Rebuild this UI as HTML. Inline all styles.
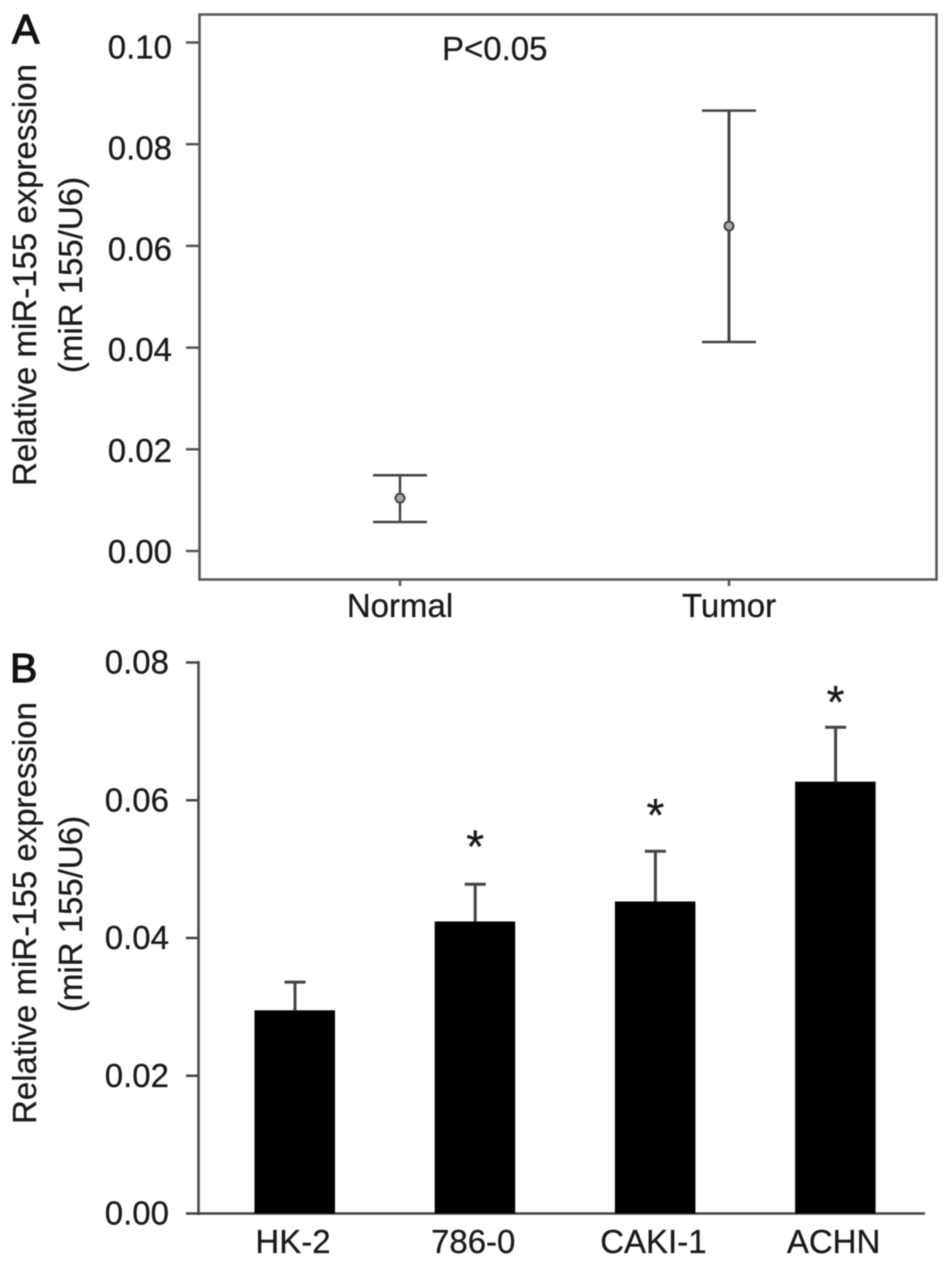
<!DOCTYPE html>
<html lang="en">
<head>
<meta charset="utf-8">
<title>miR-155 expression</title>
<style>
html,body{margin:0;padding:0;background:#fff;}
svg{display:block;filter:blur(0.5px);}
text{font-family:"Liberation Sans",sans-serif;fill:#1a1a1a;font-size:33px;stroke:#1a1a1a;stroke-width:0.3px;}
</style>
</head>
<body>
<svg id="chart" width="945" height="1266" viewBox="0 0 945 1266" xmlns="http://www.w3.org/2000/svg">
  <rect x="0" y="0" width="945" height="1266" fill="#fff"/>
  <text x="12" y="43" style="font-size:41px;stroke-width:1.2px;fill:#111;stroke:#111">A</text>
  <text x="10" y="682" style="font-size:41px;stroke-width:1.2px;fill:#111;stroke:#111">B</text>
  <rect x="199.5" y="14.5" width="737" height="565" fill="none" stroke="#555" stroke-width="2.5"/>
  <text transform="translate(36,275) rotate(-90)" text-anchor="middle">Relative miR-155 expression</text>
  <text transform="translate(82,275) rotate(-90)" text-anchor="middle">(miR 155/U6)</text>
  <text x="442" y="60">P&lt;0.05</text>
  <line x1="198.5" y1="661" x2="198.5" y2="1215" stroke="#444" stroke-width="2.5"/>
  <line x1="197" y1="1213.5" x2="925" y2="1213.5" stroke="#444" stroke-width="2.5"/>
  <text transform="translate(36,913) rotate(-90)" text-anchor="middle">Relative miR-155 expression</text>
  <text transform="translate(82,914) rotate(-90)" text-anchor="middle">(miR 155/U6)</text>
  <g id="panelA"></g>
  <g id="panelB"></g>
</svg>
<script>
// Panel A data
const groupsA = ["Normal", "Tumor"];
const meansA = [0.0104, 0.0639];
const upperA = [0.0149, 0.0866];
const lowerA = [0.0057, 0.0411];
const ticksA = [0.00, 0.02, 0.04, 0.06, 0.08, 0.10];

// Panel B data
const groupsB = ["HK-2", "786-0", "CAKI-1", "ACHN"];
const valuesB = [0.0295, 0.0424, 0.0453, 0.0627];
const errorTopB = [0.0336, 0.0478, 0.0526, 0.0706];
const starLevelB = [null, 0.0540, 0.0586, 0.0750];
const ticksB = [0.00, 0.02, 0.04, 0.06, 0.08];

const NS = "http://www.w3.org/2000/svg";
const panelA = document.getElementById("panelA");
const panelB = document.getElementById("panelB");

function make(parent, tag, attrs, text) {
  const node = document.createElementNS(NS, tag);
  for (const k in attrs) node.setAttribute(k, attrs[k]);
  if (text !== undefined) node.textContent = text;
  parent.appendChild(node);
  return node;
}

// Axis functions
function yA(v) { return 551 - v * 5085; }
function xA(i) { return 400 + i * 329; }
function yB(v) { return 1213.5 - v * 6887.5; }
function xB(i) { return 295 + i * 180.2; }

// Panel A ticks
ticksA.forEach(function (t) {
  const y = yA(t);
  const tick = make(panelA, "line", {x1: 186, x2: 199, y1: y, y2: y, stroke: "#555", "stroke-width": 2.5});
  
  
  const label = make(panelA, "text", {x: 172, y: y + 12 + t * 40, "text-anchor": "end"}, t.toFixed(2));
  
  
});

// Panel A groups
groupsA.forEach(function (g, i) {
  const x = xA(i);
  const tick = make(panelA, "line", {x1: x, x2: x, y1: 579, y2: 586, stroke: "#555", "stroke-width": 2.5});
  
  
  const label = make(panelA, "text", {x: x, y: 617, "text-anchor": "middle"}, g);
  
  
  const stem = make(panelA, "line", {x1: x, x2: x, y1: yA(upperA[i]), y2: yA(lowerA[i]), stroke: "#444", "stroke-width": i === 1 ? 3 : 2.5});
  
  
  const capTop = make(panelA, "line", {x1: x - 27, x2: x + 27, y1: yA(upperA[i]), y2: yA(upperA[i]), stroke: "#444", "stroke-width": 2.5});
  
  
  const capLow = make(panelA, "line", {x1: x - 27, x2: x + 27, y1: yA(lowerA[i]), y2: yA(lowerA[i]), stroke: "#444", "stroke-width": 2.5});
  
  
  const point = make(panelA, "circle", {cx: x, cy: yA(meansA[i]), r: 4.5, fill: "#aaa", stroke: "#444", "stroke-width": 2});
  
  
});

// Panel B ticks
ticksB.forEach(function (t) {
  const y = yB(t);
  const tick = make(panelB, "line", {x1: 186, x2: 198, y1: y, y2: y, stroke: "#444", "stroke-width": 2.5});
  
  
  const label = make(panelB, "text", {x: 169, y: y + 11, "text-anchor": "end"}, t.toFixed(2));
  
  
});

// Panel B bars
groupsB.forEach(function (g, i) {
  const x = xB(i);
  const stem = make(panelB, "line", {x1: x, x2: x, y1: yB(errorTopB[i]), y2: yB(valuesB[i]), stroke: "#444", "stroke-width": 3});
  
  
  const cap = make(panelB, "line", {x1: x - 10.5, x2: x + 10.5, y1: yB(errorTopB[i]), y2: yB(errorTopB[i]), stroke: "#444", "stroke-width": 3});
  
  
  const bar = make(panelB, "rect", {x: x - 40.5, y: yB(valuesB[i]), width: 80.5, height: yB(0) - yB(valuesB[i]), fill: "#000"});
  
  
  const label = make(panelB, "text", {x: x - 2, y: 1253, "text-anchor": "middle"}, g);
  
  
  if (starLevelB[i] !== null) {
    const star = make(panelB, "text", {x: x, y: yB(starLevelB[i]) + 21, "text-anchor": "middle", style: "font-size:46px"}, "*");
    
    
  }
});
</script>
</body>
</html>
